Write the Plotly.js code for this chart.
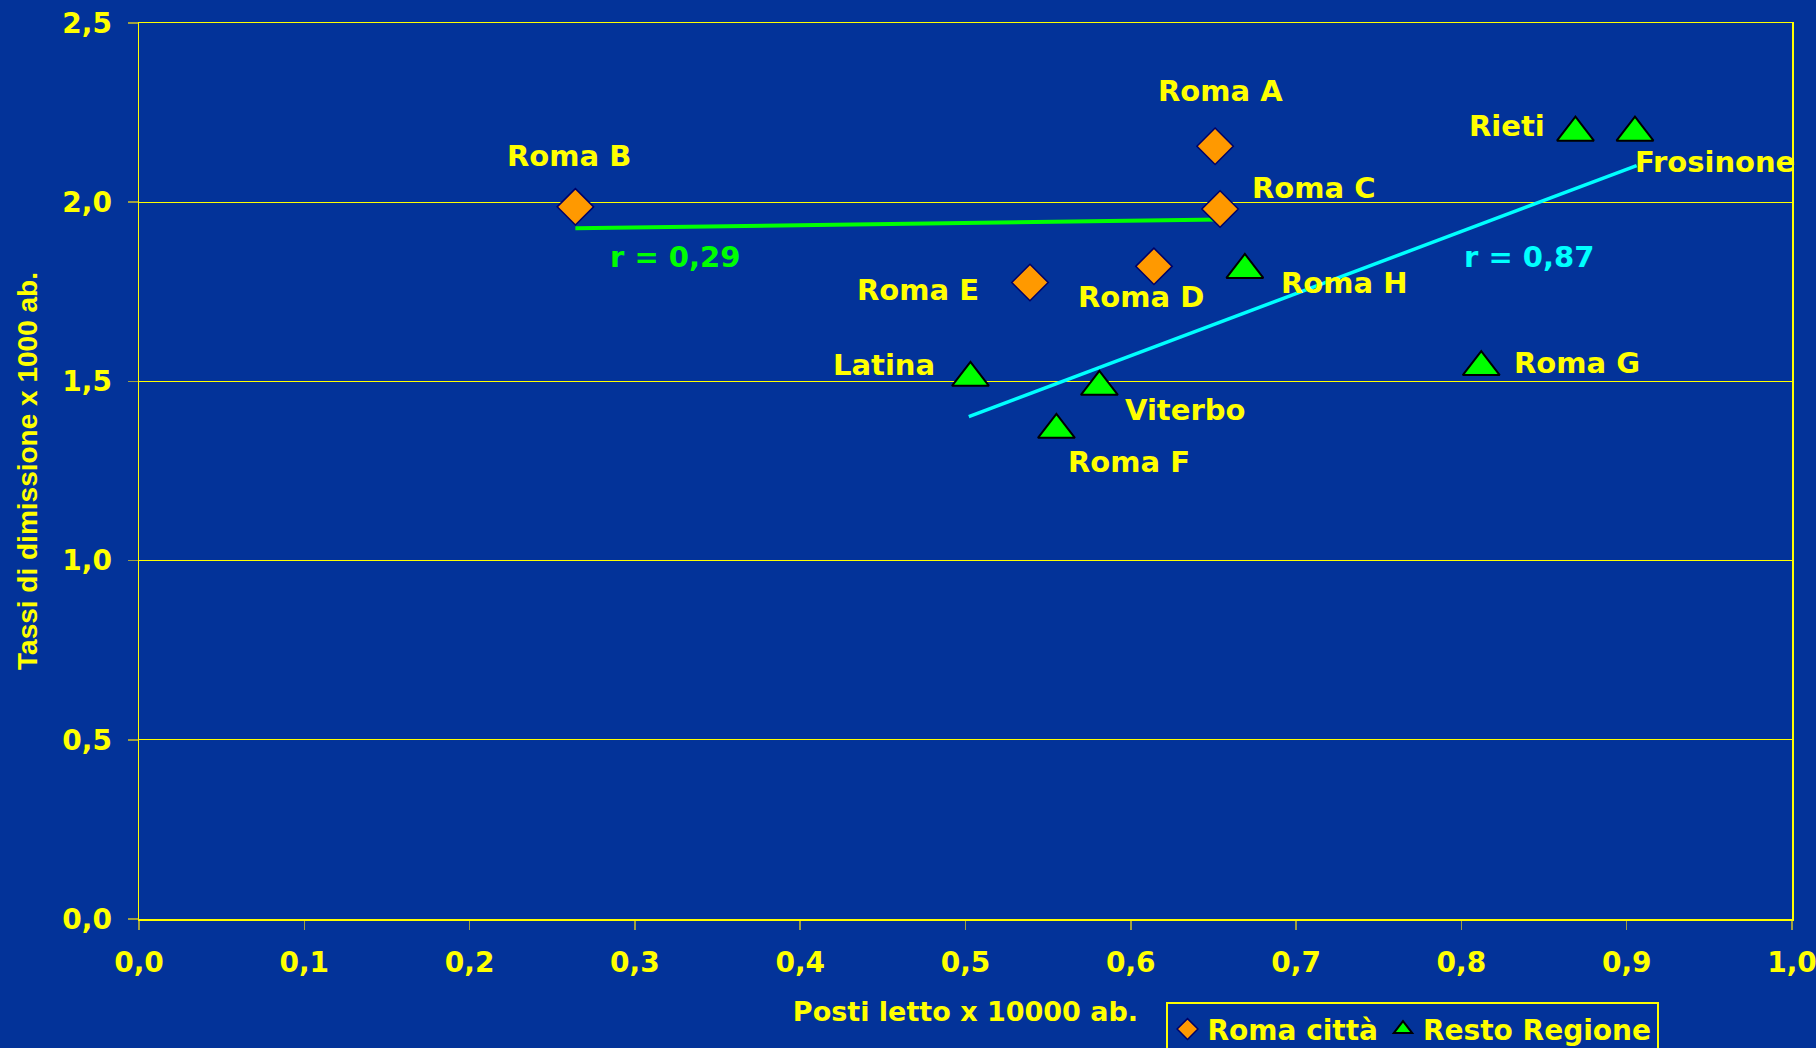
<!DOCTYPE html>
<html>
<head>
<meta charset="utf-8">
<script src="https://cdn.plot.ly/plotly-3.0.1.min.js"></script>
<style>html,body{margin:0;padding:0;background:#033399;}#chart{width:1816px;height:1048px;}</style>
</head>
<body>
<div id="chart"></div>
<script>
// ---- data ----
const romaNames = ['Roma A', 'Roma B', 'Roma C', 'Roma D', 'Roma E'];
const romaX = [0.651, 0.264, 0.654, 0.614, 0.539];
const romaY = [2.156, 1.987, 1.981, 1.821, 1.776];

const restoNames = ['Rieti', 'Frosinone', 'Roma H', 'Latina', 'Viterbo', 'Roma F', 'Roma G'];
const restoX = [0.869, 0.905, 0.669, 0.503, 0.581, 0.555, 0.812];
const restoY = [2.194, 2.194, 1.811, 1.510, 1.485, 1.365, 1.540];

const trendRomaX = [0.264, 0.654];
const trendRomaY = [1.927, 1.952];
const trendRestoX = [0.502, 0.906];
const trendRestoY = [1.402, 2.102];

const rLabels = ['r = 0,29', 'r = 0,87'];
const rLabelX = [0.324, 0.841];
const rLabelY = [1.846, 1.846];

const seriesNames = ['Roma città', 'Resto Regione'];
const xTitle = 'Posti letto x 10000 ab.';
const yTitle = 'Tassi di dimissione x 1000 ab.';

// ---- styles / positions ----
const BG = '#033399';
const YEL = '#FFFF00';
const FONT = 'DejaVu Sans, Verdana, sans-serif';

// label offsets in pixels relative to the marker (dx right, dy up)
const labelOffsets = {
  'Roma A': [5, 55], 'Roma B': [-6, 51], 'Roma C': [93, 21], 'Roma D': [-13, -31],
  'Roma E': [-112, -8], 'Roma F': [73, -32], 'Roma G': [96, 4], 'Roma H': [99, -13],
  'Latina': [-86, 13], 'Viterbo': [86, -23], 'Rieti': [-68, 7], 'Frosinone': [80, -29]
};

const traces = [
  {
    x: trendRomaX, y: trendRomaY, mode: 'lines', type: 'scatter',
    line: {color: '#00FF00', width: 4}, showlegend: false, hoverinfo: 'skip'
  },
  {
    x: trendRestoX, y: trendRestoY, mode: 'lines', type: 'scatter',
    line: {color: '#00FFFF', width: 3.5}, showlegend: false, hoverinfo: 'skip'
  },
  {
    x: romaX, y: romaY, text: romaNames, name: seriesNames[0], mode: 'markers', type: 'scatter',
    marker: {symbol: 'diamond', size: 28, color: '#FF9900', line: {color: '#000066', width: 1.5}}
  },
  {
    x: restoX, y: restoY, text: restoNames, name: seriesNames[1], mode: 'markers', type: 'scatter',
    marker: {symbol: 'triangle-up', size: 32, color: '#00FF00', line: {color: '#000000', width: 2}}
  }
];

const annotations = [];
function addLabels(names, xs, ys) {
  names.forEach((n, i) => {
    const off = labelOffsets[n] || [0, 0];
    annotations.push({
      x: xs[i], y: ys[i], xref: 'x', yref: 'y', text: n, showarrow: false,
      xanchor: 'center', yanchor: 'middle', xshift: off[0], yshift: off[1],
      font: {family: FONT, size: 29, color: YEL, weight: 'bold'}
    });
  });
}
addLabels(romaNames, romaX, romaY);
addLabels(restoNames, restoX, restoY);
const rColors = ['#00FF00', '#00FFFF'];
rLabels.forEach((t, i) => {
  annotations.push({
    x: rLabelX[i], y: rLabelY[i], xref: 'x', yref: 'y', text: t, showarrow: false,
    xanchor: 'center', yanchor: 'middle',
    font: {family: FONT, size: 29, color: rColors[i], weight: 'bold'}
  });
});

const layout = {
  width: 1816, height: 1048,
  paper_bgcolor: BG, plot_bgcolor: BG,
  margin: {l: 139, r: 24, t: 23, b: 129, pad: 0, autoexpand: false},
  separators: ',.',
  showlegend: true,
  font: {family: FONT, color: YEL},
  xaxis: {
    range: [0, 1], dtick: 0.1, tick0: 0, tickformat: '.1f',
    showgrid: false, zeroline: false,
    showline: true, linecolor: YEL, linewidth: 1.5, mirror: true,
    ticks: 'outside', ticklen: 9, tickcolor: '#A0A040', tickwidth: 1.5,
    tickfont: {family: FONT, size: 28, color: YEL, weight: 'bold'},
    ticklabelstandoff: 9, ticklabeloverflow: 'allow',
    title: {text: xTitle, standoff: 24, font: {family: FONT, size: 27, color: YEL, weight: 'bold'}}
  },
  yaxis: {
    range: [0, 2.5], dtick: 0.5, tick0: 0, tickformat: '.1f',
    showgrid: true, gridcolor: YEL, gridwidth: 1, zeroline: false,
    showline: true, linecolor: YEL, linewidth: 1.5, mirror: true,
    ticks: 'outside', ticklen: 10, tickcolor: '#A0A040', tickwidth: 1.5,
    tickfont: {family: FONT, size: 28, color: YEL, weight: 'bold'},
    ticklabelstandoff: 10, ticklabeloverflow: 'allow',
    title: {text: yTitle, standoff: 16, font: {family: 'Liberation Sans, Arial, sans-serif', size: 28, color: YEL, weight: 'bold'}}
  },
  legend: {
    orientation: 'h', x: 0.621, xanchor: 'left', y: -0.093, yanchor: 'top',
    bgcolor: BG, bordercolor: YEL, borderwidth: 2,
    font: {family: FONT, size: 28, color: YEL, weight: 'bold'},
    itemwidth: 30, tracegroupgap: 0
  },
  annotations: annotations
};

Plotly.newPlot('chart', traces, layout, {displayModeBar: false, staticPlot: true});
</script>
</body>
</html>
